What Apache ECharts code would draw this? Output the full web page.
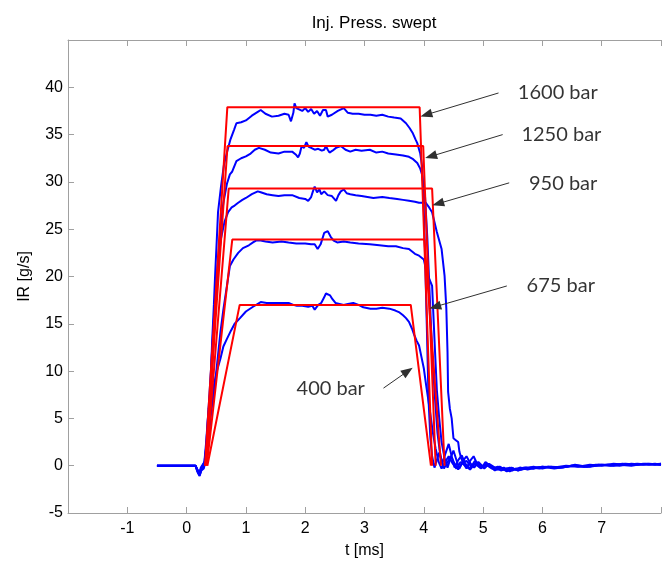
<!DOCTYPE html>
<html><head><meta charset="utf-8">
<script src="https://cdn.jsdelivr.net/npm/echarts/dist/echarts.min.js"></script>
<style>html,body{margin:0;padding:0;background:#fff}#c{width:664px;height:564px}</style>
</head><body><div id="c"></div>
<script>
// ---- data ----
const xTicks = [-2, 8, 1];           // min, max, interval
const yTicks = [-5, 45, 5];

const ir1600 = [[-0.5,0],[0.15,0],[0.18,-0.6],[0.21,-1.0],[0.24,-0.4],[0.27,-0.6],[0.3,0.3],[0.33,2],[0.36,5],[0.40,8],[0.43,13],[0.46,17],[0.48,20],[0.51,24],[0.53,26.8],[0.58,29.5],[0.63,31.8],[0.68,33.1],[0.74,34.5],[0.80,35.5],[0.84,36.2],[0.92,36.3],[1.0,36.5],[1.1,37.0],[1.2,37.4],[1.25,37.6],[1.33,37.2],[1.44,36.9],[1.55,37.0],[1.65,37.2],[1.72,37.1],[1.76,36.4],[1.80,37.3],[1.82,38.3],[1.85,37.8],[1.88,38.0],[1.95,37.5],[2.0,37.8],[2.05,37.4],[2.1,37.7],[2.15,37.2],[2.2,37.5],[2.25,37.0],[2.3,37.6],[2.35,37.6],[2.38,36.9],[2.45,37.1],[2.55,37.5],[2.65,37.8],[2.72,37.3],[2.8,37.2],[2.9,37.2],[3.0,37.1],[3.1,37.1],[3.2,37.0],[3.3,37.1],[3.4,36.9],[3.5,36.8],[3.61,36.7],[3.70,36.2],[3.76,35.7],[3.81,35.2],[3.86,34.5],[3.89,34.1],[3.94,33.0],[3.97,31.7],[3.99,29],[4.01,25],[4.03,20],[4.05,15],[4.08,7],[4.11,3],[4.14,1],[4.18,-0.2],[4.22,0.6],[4.26,1.4],[4.3,0.5],[4.34,-0.3],[4.4,0.4],[4.46,1.0],[4.52,0.2],[4.58,-0.4],[4.65,0.3],[4.72,0.5],[4.8,-0.1],[4.88,0.3],[4.95,-0.2],[5.05,0.1],[5.15,-0.3],[5.25,-0.1],[5.35,-0.4],[5.45,-0.2],[5.55,-0.4],[5.7,-0.2],[5.85,-0.3],[6.0,-0.1],[6.2,-0.2],[6.4,0.0],[6.6,-0.1],[6.8,0.1],[7.0,0.0],[7.2,0.2],[7.4,0.1],[7.6,0.2],[7.8,0.1],[8.0,0.2]];

const ir1250 = [[-0.5,0],[0.15,0],[0.19,-0.5],[0.22,-0.9],[0.25,-0.3],[0.28,-0.5],[0.31,0.5],[0.34,2.5],[0.38,5.5],[0.42,9],[0.46,13.5],[0.50,18],[0.53,21.5],[0.57,25],[0.62,27.8],[0.68,29.8],[0.73,30.8],[0.77,31.1],[0.84,32.2],[0.92,32.5],[1.0,32.7],[1.08,33.0],[1.15,33.4],[1.22,33.6],[1.32,33.4],[1.42,33.1],[1.55,33.0],[1.65,33.2],[1.78,33.2],[1.84,32.9],[1.88,32.6],[1.91,33.0],[1.94,33.8],[1.98,33.6],[2.02,34.2],[2.06,33.7],[2.10,33.6],[2.16,33.4],[2.22,33.5],[2.28,33.3],[2.32,33.4],[2.35,33.8],[2.38,33.4],[2.41,33.1],[2.46,33.3],[2.52,33.6],[2.6,33.8],[2.68,33.4],[2.76,33.2],[2.85,33.4],[2.95,33.3],[3.09,33.4],[3.2,33.1],[3.3,33.2],[3.4,33.0],[3.53,32.9],[3.65,32.8],[3.75,32.65],[3.82,32.4],[3.89,32.0],[3.94,31.4],[3.97,30.8],[4.02,28.5],[4.06,24],[4.10,18],[4.14,12],[4.19,7],[4.23,3.5],[4.27,1.5],[4.31,0.2],[4.36,1.2],[4.42,2.3],[4.47,1.0],[4.52,-0.2],[4.58,0.6],[4.64,1.1],[4.7,0.2],[4.78,-0.3],[4.86,0.5],[4.94,0.1],[5.02,-0.3],[5.1,0.2],[5.2,-0.2],[5.3,-0.5],[5.4,-0.3],[5.5,-0.5],[5.62,-0.2],[5.75,-0.4],[5.9,-0.2],[6.1,-0.1],[6.3,-0.2],[6.5,0.0],[6.7,-0.1],[6.9,0.1],[7.1,0.1],[7.3,0.0],[7.5,0.2],[7.7,0.1],[7.9,0.2],[8.0,0.1]];

const ir950 = [[-0.5,0],[0.15,0],[0.18,-0.4],[0.21,-0.8],[0.24,-0.2],[0.27,-0.4],[0.3,0.4],[0.33,2.5],[0.37,6],[0.41,10],[0.45,14.5],[0.49,18.5],[0.53,21.5],[0.58,24],[0.64,25.8],[0.70,26.8],[0.76,27.3],[0.81,27.5],[0.87,27.8],[0.94,28.1],[1.0,28.3],[1.1,28.7],[1.20,29.0],[1.25,28.9],[1.35,28.7],[1.45,28.6],[1.55,28.5],[1.65,28.6],[1.78,28.6],[1.9,28.3],[2.0,28.2],[2.05,28.0],[2.1,28.4],[2.13,29.0],[2.16,29.5],[2.2,28.9],[2.24,29.2],[2.27,28.7],[2.32,29.0],[2.38,28.6],[2.45,28.5],[2.52,28.0],[2.56,28.6],[2.6,29.0],[2.65,29.2],[2.7,28.8],[2.76,28.7],[2.85,28.6],[2.95,28.5],[3.05,28.4],[3.15,28.3],[3.3,28.4],[3.42,28.3],[3.55,28.2],[3.65,28.1],[3.75,28.0],[3.85,27.9],[3.92,27.8],[4.03,27.8],[4.09,27.3],[4.14,26.8],[4.22,24.7],[4.30,22.9],[4.35,20.1],[4.38,16.6],[4.40,12],[4.41,7.8],[4.44,6],[4.47,5.0],[4.50,2.9],[4.54,2.7],[4.58,2.5],[4.60,1.5],[4.63,0.8],[4.67,0.2],[4.72,-0.3],[4.78,0.5],[4.84,1.0],[4.9,0.2],[4.97,-0.3],[5.04,0.4],[5.12,0.0],[5.2,-0.5],[5.3,-0.2],[5.4,-0.6],[5.5,-0.3],[5.6,-0.5],[5.72,-0.2],[5.85,-0.3],[6.0,-0.1],[6.2,-0.3],[6.4,-0.1],[6.6,0.0],[6.8,-0.1],[7.0,0.1],[7.2,0.0],[7.4,0.2],[7.6,0.1],[7.8,0.2],[8.0,0.1]];

const ir675 = [[-0.5,0],[0.15,0],[0.19,-0.7],[0.22,-1.0],[0.25,-0.5],[0.29,-0.3],[0.32,0.5],[0.36,3],[0.40,5.5],[0.46,7.5],[0.51,10.5],[0.57,14.1],[0.62,16.5],[0.68,19.0],[0.73,21.1],[0.79,21.8],[0.87,22.5],[0.95,23.0],[1.05,23.3],[1.12,23.6],[1.17,23.8],[1.25,23.8],[1.33,23.7],[1.45,23.6],[1.6,23.7],[1.72,23.6],[1.85,23.5],[2.0,23.5],[2.1,23.4],[2.16,23.4],[2.21,22.9],[2.26,23.4],[2.32,24.6],[2.38,24.8],[2.43,24.2],[2.48,23.8],[2.54,23.6],[2.65,23.7],[2.76,23.6],[2.9,23.5],[3.09,23.4],[3.25,23.3],[3.4,23.2],[3.53,23.2],[3.65,23.0],[3.75,22.9],[3.85,22.4],[3.92,22.2],[4.0,21.8],[4.05,20.4],[4.14,19.0],[4.16,16.2],[4.19,12],[4.22,8],[4.26,5],[4.30,2.5],[4.35,0.8],[4.40,-0.2],[4.45,0.8],[4.5,1.6],[4.55,0.6],[4.6,-0.3],[4.66,0.5],[4.72,1.0],[4.78,0.3],[4.85,-0.2],[4.92,0.4],[5.0,-0.1],[5.08,0.2],[5.18,-0.4],[5.28,-0.1],[5.38,-0.5],[5.48,-0.2],[5.58,-0.5],[5.7,-0.3],[5.85,-0.1],[6.0,-0.3],[6.15,-0.1],[6.35,-0.2],[6.55,0.1],[6.75,-0.1],[6.95,0.1],[7.15,0.0],[7.35,0.2],[7.55,0.1],[7.75,0.2],[8.0,0.1]];

const ir400 = [[-0.5,0],[0.15,0],[0.19,-0.6],[0.22,-1.1],[0.25,-0.4],[0.28,-0.6],[0.31,0.2],[0.34,1.5],[0.38,3.5],[0.42,6],[0.46,8.5],[0.51,10],[0.57,11.3],[0.62,12.6],[0.68,13.4],[0.75,14.3],[0.81,15.0],[0.90,15.6],[1.0,16.3],[1.12,16.8],[1.25,17.3],[1.35,17.2],[1.5,17.2],[1.6,17.2],[1.72,17.2],[1.80,17.0],[1.86,16.9],[1.95,16.9],[2.05,16.8],[2.12,16.9],[2.16,16.5],[2.19,16.65],[2.22,17.0],[2.27,17.2],[2.32,17.8],[2.35,18.2],[2.38,18.3],[2.42,18.0],[2.46,17.6],[2.51,17.2],[2.58,17.1],[2.65,17.0],[2.72,17.1],[2.81,17.2],[2.9,17.0],[2.98,16.75],[3.1,16.6],[3.2,16.6],[3.3,16.7],[3.42,16.6],[3.52,16.4],[3.59,16.2],[3.65,15.9],[3.70,15.6],[3.75,15.2],[3.80,14.5],[3.84,13.8],[3.88,13.2],[3.92,12.7],[3.96,11.5],[4.0,10.3],[4.04,8.5],[4.08,6.8],[4.12,5.0],[4.16,3.2],[4.2,1.8],[4.25,0.4],[4.3,-0.3],[4.36,0.4],[4.42,1.0],[4.48,0.3],[4.55,-0.3],[4.62,0.4],[4.7,0.0],[4.78,-0.4],[4.86,0.2],[4.95,-0.2],[5.05,0.2],[5.15,-0.2],[5.25,-0.4],[5.35,-0.2],[5.45,-0.6],[5.55,-0.3],[5.65,-0.4],[5.8,-0.2],[5.95,-0.3],[6.1,-0.1],[6.3,-0.2],[6.5,0.0],[6.7,-0.1],[6.9,0.0],[7.1,0.1],[7.3,0.1],[7.5,0.0],[7.7,0.2],[7.9,0.1],[8.0,0.2]];

// red trapezoid fits
const fitNames    = ['1600 bar','1250 bar','950 bar','675 bar','400 bar'];
const fitHeight   = [37.9, 33.8, 29.3, 23.9, 17.0];
const fitRiseFrom = [0.31, 0.32, 0.33, 0.34, 0.35];
const fitRiseTo   = [0.687, 0.69, 0.71, 0.77, 0.895];
const fitFallFrom = [3.93, 3.99, 4.14, 4.01, 3.78];
const fitFallTo   = [4.14, 4.20, 4.35, 4.29, 4.12];

// annotations
const labelT      = [6.26, 6.32, 6.35, 6.31, 2.43];
const labelV      = [39.4, 35.0, 29.8, 19.0, 8.2];
const arrowFromT  = [5.26, 5.33, 5.44, 5.40, 3.32];
const arrowFromV  = [39.4, 35.0, 29.9, 19.0, 8.2];
const arrowToT    = [4.04, 4.12, 4.24, 4.19, 3.73];
const arrowToV    = [37.1, 32.7, 27.7, 16.8, 10.0];

// ---- chart ----
const AX = '#a0a0a0';
const FONT = 'Liberation Sans';
const chart = echarts.init(document.getElementById('c'), null, {renderer:'canvas'});
const blues = [ir1600, ir1250, ir950, ir675, ir400];
const series = [];
blues.forEach((d,i)=>series.push({type:'line', data:d, showSymbol:false, symbol:'none', silent:true,
  lineStyle:{color:'#0000ff', width:2}, z:2}));
fitNames.forEach((n,i)=>series.push({type:'line', showSymbol:false, symbol:'none', silent:true,
  data:[[fitRiseFrom[i],0],[fitRiseTo[i],fitHeight[i]],[fitFallFrom[i],fitHeight[i]],[fitFallTo[i],0]],
  lineStyle:{color:'#ff0000', width:2}, z:3}));
series.push({type:'scatter', silent:true, symbol:'circle', symbolSize:0, itemStyle:{color:'#000'}, z:5,
  data: fitNames.map((n,i)=>({value:[labelT[i],labelV[i]], name:n})),
  label:{show:true, position:'inside', formatter:p=>p.name, color:'#000', fontSize:20, fontFamily:'Lato'}
});
series.push({type:'line', silent:true, data:[], symbol:'none', itemStyle:{color:'#000'}, z:6,
  markLine:{silent:true, animation:false, symbol:['none','triangle'], symbolSize:12,
    lineStyle:{color:'#303030', width:1, type:'solid', opacity:1}, label:{show:false},
    data: fitNames.map((n,i)=>[
      {coord:[arrowFromT[i],arrowFromV[i]], symbol:'none', symbolSize:1},
      {coord:[arrowToT[i],arrowToV[i]], symbol:'triangle', symbolSize:[9,12], itemStyle:{color:'#000'}}])}
});

const xBase = {type:'value', min:xTicks[0], max:xTicks[1], interval:xTicks[2],
  axisLine:{show:true, onZero:false, lineStyle:{color:AX, width:1}},
  axisTick:{show:true, inside:true, length:6, lineStyle:{color:AX}},
  splitLine:{show:false}};
chart.setOption({
  animation:false,
  backgroundColor:'#fff',
  title:{text:'Inj. Press. swept', left:369, top:10, textAlign:'center',
    textStyle:{fontSize:17, fontWeight:'normal', color:'#000', fontFamily:FONT}},
  grid:{left:68, top:40, right:-10, bottom:49},
  xAxis:[
    Object.assign({}, xBase, {position:'bottom',
      axisLabel:{color:'#000', fontSize:16, fontFamily:FONT, margin:8,
        formatter:v=>(v===xTicks[0]||v===xTicks[1])?'':String(v)},
      name:'t [ms]', nameLocation:'middle', nameGap:30,
      nameTextStyle:{color:'#000', fontSize:16, fontFamily:FONT}}),
    Object.assign({}, xBase, {position:'top', axisLabel:{show:false}})
  ],
  yAxis:{type:'value', min:yTicks[0], max:yTicks[1], interval:yTicks[2],
    axisLine:{show:true, onZero:false, lineStyle:{color:AX, width:1}},
    axisTick:{show:true, inside:true, length:6, lineStyle:{color:AX}},
    splitLine:{show:false},
    axisLabel:{color:'#000', fontSize:16, fontFamily:FONT, margin:5,
      formatter:v=>(v===yTicks[1])?'':String(v)},
    name:'IR [g/s]', nameLocation:'middle', nameGap:35, nameRotate:90,
    nameTextStyle:{color:'#000', fontSize:16, fontFamily:FONT}},
  series: series
});
</script></body></html>
